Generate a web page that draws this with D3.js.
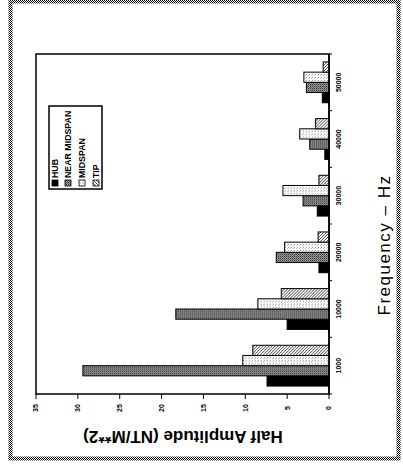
<!DOCTYPE html>
<html>
<head>
<meta charset="utf-8">
<script src="https://cdn.jsdelivr.net/npm/d3@7"></script>
<style>
  body { margin: 0; background: #fff; }
  svg { display: block; }
  text { font-family: "Liberation Sans", Arial, sans-serif; fill: #000; }
</style>
</head>
<body>
<div id="root"></div>
<script>
var categories = ['1000', '10000', '20000', '30000', '40000', '50000'];
var seriesNames = ['HUB', 'NEAR MIDSPAN', 'MIDSPAN', 'TIP'];
var hub = [7.4, 5.0, 1.2, 1.4, 0.5, 0.8];
var nearMidspan = [29.4, 18.3, 6.3, 3.1, 2.3, 2.7];
var midspan = [10.3, 8.5, 5.3, 5.5, 3.5, 3.0];
var tip = [9.1, 5.7, 1.3, 1.2, 1.6, 0.7];
var valueTicks = [0, 5, 10, 15, 20, 25, 30, 35];

var seriesVals = [hub, nearMidspan, midspan, tip];
var w = 403, h = 474;
var svg = d3.select('#root').append('svg').attr('width', w).attr('height', h);

// patterns
var defs = svg.append('defs');
var p1 = defs.append('pattern').attr('id', 'checker').attr('width', 2).attr('height', 2)
  .attr('patternUnits', 'userSpaceOnUse');
p1.append('rect').attr('width', 2).attr('height', 2).attr('fill', '#fff');
p1.append('rect').attr('width', 1).attr('height', 1).attr('fill', '#000');
p1.append('rect').attr('x', 1).attr('y', 1).attr('width', 1).attr('height', 1).attr('fill', '#000');

var p2 = defs.append('pattern').attr('id', 'dense').attr('width', 2).attr('height', 2)
  .attr('patternUnits', 'userSpaceOnUse');
p2.append('rect').attr('width', 2).attr('height', 2).attr('fill', '#999');
p2.append('rect').attr('width', 1).attr('height', 1).attr('fill', '#333');
p2.append('rect').attr('x', 1).attr('y', 1).attr('width', 1).attr('height', 1).attr('fill', '#666');

var p3 = defs.append('pattern').attr('id', 'light').attr('width', 3).attr('height', 3)
  .attr('patternUnits', 'userSpaceOnUse');
p3.append('rect').attr('width', 3).attr('height', 3).attr('fill', '#fff');
p3.append('rect').attr('width', 1).attr('height', 1).attr('fill', '#999');
p3.append('rect').attr('x', 2).attr('y', 1).attr('width', 1).attr('height', 1).attr('fill', '#bbb');

var p4 = defs.append('pattern').attr('id', 'hatch').attr('width', 3).attr('height', 3)
  .attr('patternUnits', 'userSpaceOnUse');
p4.append('rect').attr('width', 3).attr('height', 3).attr('fill', '#fff');
p4.append('path').attr('d', 'M0,3 L3,0 M-1,1 L1,-1 M2,4 L4,2').attr('stroke', '#444').attr('stroke-width', 1);

var fills = ['#000', 'url(#dense)', 'url(#light)', 'url(#hatch)'];

// outer frame
svg.append('rect').attr('x', 10.5).attr('y', 1.5).attr('width', 388).attr('height', 457)
  .attr('fill', 'none').attr('stroke', 'url(#checker)').attr('stroke-width', 4);

// scales
var x = d3.scaleLinear().domain([0, 35]).range([329, 36]);
var y = d3.scaleBand().domain(categories).range([394, 54]).paddingInner(0.28).paddingOuter(0.14);
var ySub = d3.scaleBand().domain(seriesNames).range([y.bandwidth(), 0]);

// plot frame
svg.append('rect').attr('x', 36).attr('y', 54).attr('width', 293).attr('height', 340)
  .attr('fill', 'none').attr('stroke', '#000').attr('stroke-width', 1.5);

// bars
var groups = svg.append('g').attr('id', 'bars')
  .selectAll('g')
  .data(categories)
  .enter()
  .append('g')
  .attr('transform', function(d) { return 'translate(0,' + y(d) + ')'; });
groups.selectAll('rect')
  .data(function(d, i) {
    return seriesNames.map(function(s, j) { return {s: s, v: seriesVals[j][i], j: j}; });
  })
  .enter()
  .append('rect')
  .attr('x', function(d) { return x(d.v); })
  .attr('y', function(d) { return ySub(d.s); })
  .attr('width', function(d) { return x(0) - x(d.v); })
  .attr('height', ySub.bandwidth())
  .attr('fill', function(d) { return fills[d.j]; })
  .attr('stroke', '#000')
  .attr('stroke-width', 1);

// category axis (right side)
var catAxis = svg.append('g').attr('transform', 'translate(329,0)');
catAxis.append('line').attr('y1', 54).attr('y2', 394).attr('stroke', '#000').attr('stroke-width', 1.5);
var step = y.step();
catAxis.selectAll('line.tick')
  .data(d3.range(categories.length + 1))
  .enter()
  .append('line')
  .attr('class', 'tick')
  .attr('x1', 0).attr('x2', 3)
  .attr('y1', function(d) { return 394 - d * step; })
  .attr('y2', function(d) { return 394 - d * step; })
  .attr('stroke', '#000');
catAxis.selectAll('text')
  .data(categories)
  .enter()
  .append('text')
  .attr('transform', function(d) {
    return 'translate(10,' + (y(d) + y.bandwidth() / 2) + ') rotate(-90)';
  })
  .attr('text-anchor', 'middle')
  .attr('dy', '0.35em')
  .attr('font-size', 7)
  .attr('font-weight', 'bold')
  .text(function(d) { return d; });

// value axis (bottom)
var valAxis = svg.append('g').attr('transform', 'translate(0,394)');
valAxis.selectAll('line')
  .data(valueTicks)
  .enter()
  .append('line')
  .attr('x1', function(d) { return x(d); })
  .attr('x2', function(d) { return x(d); })
  .attr('y1', 0).attr('y2', 5)
  .attr('stroke', '#000');
valAxis.selectAll('text')
  .data(valueTicks)
  .enter()
  .append('text')
  .attr('transform', function(d) { return 'translate(' + x(d) + ',14) rotate(-90)'; })
  .attr('text-anchor', 'middle')
  .attr('dy', '0.35em')
  .attr('font-size', 7)
  .attr('font-weight', 'bold')
  .text(function(d) { return d; });

// titles
svg.append('text')
  .attr('transform', 'translate(183,437) rotate(180)')
  .attr('text-anchor', 'middle')
  .attr('dy', '0.35em')
  .attr('font-size', 17)
  .attr('font-weight', 'bold')
  .text('Half Amplitude (NT/M**2)');
svg.append('text')
  .attr('transform', 'translate(384,245) rotate(-90)')
  .attr('text-anchor', 'middle')
  .attr('dy', '0.35em')
  .attr('font-size', 17)
  .attr('font-family', 'DejaVu Sans')
  .attr('letter-spacing', 1.5)
  .attr('fill', '#000')
  .text('Frequency \u2013 Hz');

// legend
var legend = svg.append('g').attr('id', 'legend');
legend.append('rect').attr('x', 49).attr('y', 106).attr('width', 53).attr('height', 83)
  .attr('fill', '#fff').attr('stroke', '#000').attr('stroke-width', 1.5);
var legX = [55, 68, 82, 96];
var items = legend.selectAll('g.item')
  .data(seriesNames)
  .enter()
  .append('g')
  .attr('class', 'item')
  .attr('transform', function(d, i) { return 'translate(' + legX[i] + ',183) rotate(-90)'; });
items.append('rect')
  .attr('x', -3).attr('y', -3).attr('width', 6).attr('height', 6)
  .attr('fill', function(d, i) { return fills[i]; })
  .attr('stroke', '#000').attr('stroke-width', 0.8);
items.append('text')
  .attr('x', 5)
  .attr('dy', '0.35em')
  .attr('font-size', 8.8)
  .attr('font-weight', 'bold')
  .text(function(d) { return d; });
</script>
</body>
</html>
